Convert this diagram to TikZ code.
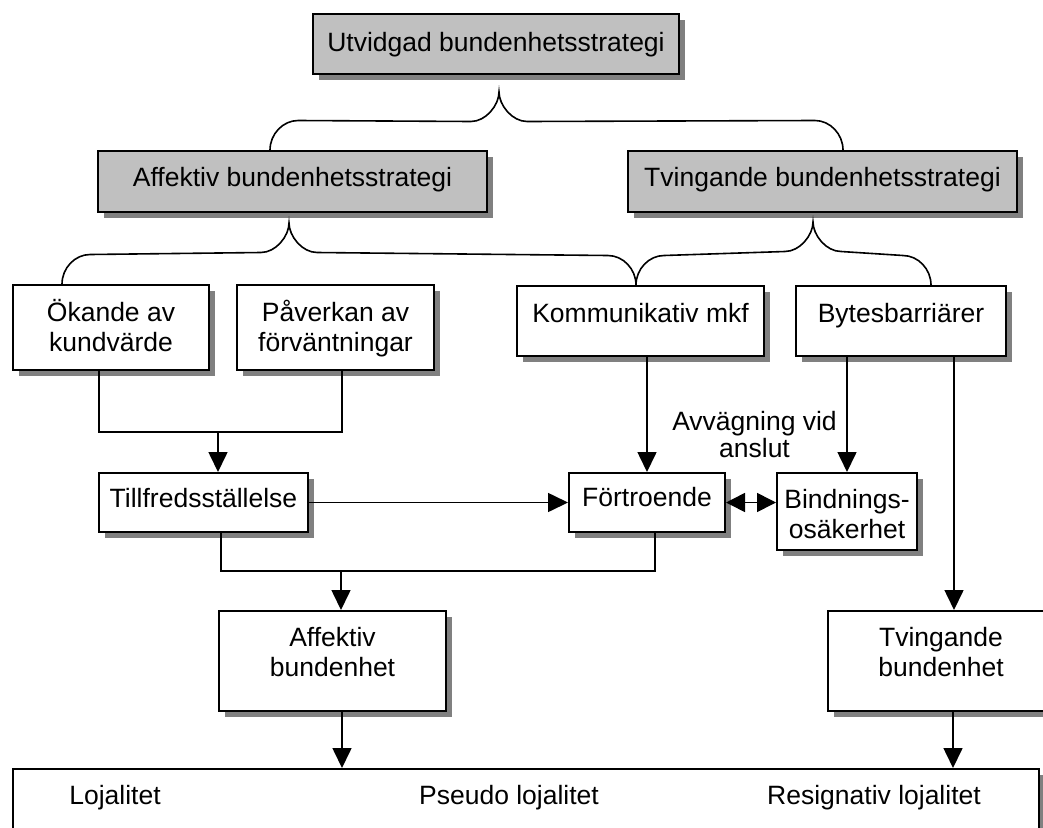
\documentclass[tikz,border=0pt]{standalone}
\usepackage{fontspec}
\setmainfont{Liberation Sans}
\usetikzlibrary{arrows.meta,shadows,calc}

\definecolor{boxgray}{HTML}{C0C0C0}
\definecolor{shadowgray}{HTML}{808080}

% two centred lines, baseline on the last line
\newcommand{\twolines}[2]{\begin{tabular}[b]{@{}c@{}}#1\\#2\end{tabular}}

% curly brace: left end, tip, right end
\newcommand{\bracepath}[3]{%
  \draw[link] (#1) .. controls ($(#1)+(0,-16)$) and ($(#1)+(13,-29.5)$) .. ($(#1)+(28,-29.5)$)
    -- ($(#2)+(-28,29.5)$) .. controls ($(#2)+(-13,29.5)$) and ($(#2)+(0,13)$) .. (#2)
    .. controls ($(#2)+(0,13)$) and ($(#2)+(13,29.5)$) .. ($(#2)+(28,29.5)$)
    -- ($(#3)+(-28,-29.5)$) .. controls ($(#3)+(-13,-29.5)$) and ($(#3)+(0,-16)$) .. (#3);}

\begin{document}
\begin{tikzpicture}[x=1pt,y=-1pt,
  every node/.style={font=\fontsize{26.5}{30}\selectfont},
  box/.style={draw=black, line width=2pt, fill=white, rectangle, anchor=north west,
    inner xsep=0pt, inner ysep=0pt,
    drop shadow={shadow xshift=6pt, shadow yshift=-6pt, fill=shadowgray, opacity=1}},
  gbox/.style={box, fill=boxgray},
  link/.style={line width=1.6pt, draw=black},
  tip/.style={Triangle[length=20pt,width=19pt]},
  arr/.style={link, -{Triangle[length=20pt,width=19pt]}},
  darr/.style={link, {Triangle[length=19pt,width=19pt]}-{Triangle[length=19pt,width=19pt]}},
  plain/.style={inner sep=0pt}]

\useasboundingbox (0,0) rectangle (1043,827);
\fill[white] (0,0) rectangle (1043,827);
\clip (0,0) rectangle (1043,827);

% strategy level
\node[gbox, minimum width=366pt, text height=37pt, text depth=23pt] (utv) at (312,13) {Utvidgad bundenhetsstrategi};
\node[gbox, minimum width=389pt, text height=35pt, text depth=26pt] (afs) at (97,150) {Affektiv bundenhetsstrategi};
\node[gbox, minimum width=389pt, text height=35pt, text depth=26pt] (tvs) at (627,150) {Tvingande bundenhetsstrategi};

% means
\node[box, minimum width=196pt, text height=66pt, text depth=19pt] (oka) at (12,284) {\twolines{Ökande av}{kundvärde}};
\node[box, minimum width=197pt, text height=66pt, text depth=19pt] (pav) at (236,284) {\twolines{Påverkan av}{förväntningar}};
\node[box, minimum width=247pt, text height=36.5pt, text depth=33.5pt] (kom) at (516,285) {Kommunikativ mkf};
\node[box, minimum width=210pt, text height=36.5pt, text depth=33.5pt] (byt) at (795,285) {Bytesbarriärer};

% intermediate states
\node[box, minimum width=209pt, text height=34pt, text depth=25pt] (tf) at (98,472) {Tillfredsställelse};
\node[box, minimum width=156pt, text height=33pt, text depth=26pt] (fo) at (568,472) {Förtroende};
\node[box, minimum width=140pt, text height=65pt, text depth=12pt] (bind) at (776,472) {\twolines{Bindnings-}{osäkerhet}};

% commitment
\node[box, minimum width=227pt, text height=65pt, text depth=35pt] (afb) at (218,610) {\twolines{Affektiv}{bundenhet}};
\node[box, minimum width=226pt, text height=65pt, text depth=35pt] (tvb) at (827,610) {\twolines{Tvingande}{bundenhet}};

% loyalty
\node[box, minimum width=1026pt, minimum height=120pt] (loy) at (12,768) {};
\node[plain, anchor=base] (loy1) at (115,804) {Lojalitet};
\node[plain, anchor=base] (loy2) at (509,804) {Pseudo lojalitet};
\node[plain, anchor=base] (loy3) at (874,804) {Resignativ lojalitet};

% label between the two upper arrows
\node[plain, anchor=base, font=\fontsize{26.5}{24}\selectfont] (avv) at (754.5,457) {\twolines{Avvägning vid}{anslut}};

% braces
\coordinate (b1l) at (270,150);
\coordinate (b1t) at (499,92);
\coordinate (b1r) at (843,150);
\coordinate (b2l) at (62,284);
\coordinate (b2t) at (289,223);
\coordinate (b3m) at (636,285);
\coordinate (b3t) at (813,222);
\coordinate (b3r) at (931,285);
\bracepath{b1l}{b1t}{b1r}
\bracepath{b2l}{b2t}{b3m}
\bracepath{b3m}{b3t}{b3r}

% connectors
\coordinate (j1) at (218,432);
\draw[link] ([xshift=-12pt]oka.south) |- (j1) -| ([xshift=6.5pt]pav.south);
\draw[arr] (j1) -- (j1 |- tf.north);
\draw[arr] (tf.east) -- (tf.east -| fo.west);
\draw[arr] (fo.north |- kom.south) -- (fo.north);
\draw[arr] (bind.north |- byt.south) -- (bind.north);
\draw[darr] (fo.east) -- (fo.east -| bind.west);
\draw[arr] ([xshift=53pt]byt.south) -- ([xshift=53pt]byt.south |- tvb.north);

\coordinate (j2) at (341,571);
\draw[link] ([xshift=17.5pt]tf.south) |- (j2) -| ([xshift=8pt]fo.south);
\draw[arr] (j2) -- (j2 |- afb.north);
\draw[arr] ([xshift=9.5pt]afb.south) -- ([xshift=9.5pt]afb.south |- loy.north);
\draw[arr] ([xshift=12pt]tvb.south) -- ([xshift=12pt]tvb.south |- loy.north);
\end{tikzpicture}
\end{document}
